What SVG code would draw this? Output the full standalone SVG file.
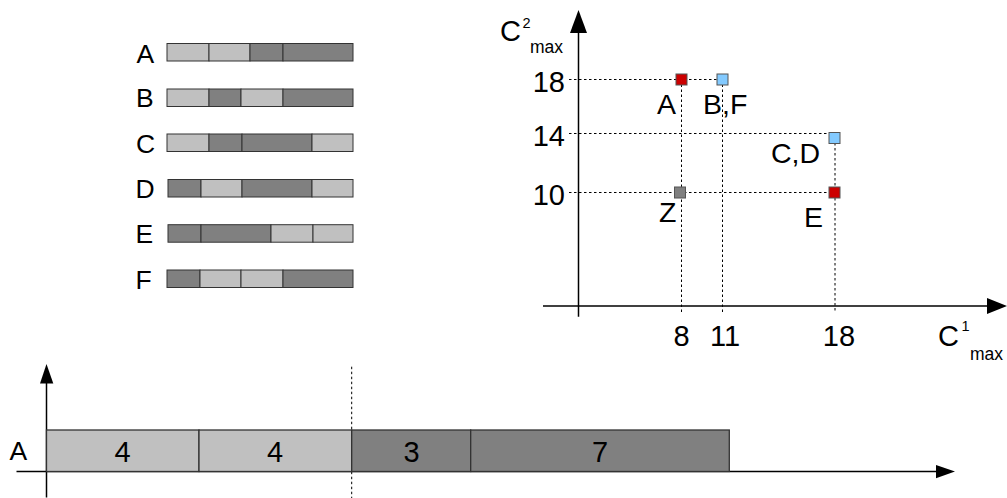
<svg xmlns="http://www.w3.org/2000/svg" width="1007" height="498" viewBox="0 0 1007 498">
<style>
text{font-family:"Liberation Sans",Arial,sans-serif;fill:#000}
.lbl{font-size:26.5px}
.num{font-size:29px}
.pl{font-size:28.5px}
.sup{font-size:14.5px}
.sub{font-size:17.5px}
.lt{fill:#c0c0c0;stroke:#333;stroke-width:1}
.dk{fill:#808080;stroke:#333;stroke-width:1}
.blt{fill:#c0c0c0;stroke:#333;stroke-width:1.3}
.bdk{fill:#808080;stroke:#333;stroke-width:1.3}
.axis{stroke:#000;stroke-width:1.5;fill:none}
.dot{stroke:#000;stroke-width:1;stroke-dasharray:2.5 2.5;fill:none}
.arr{fill:#000}
.red{fill:#cc0000;stroke:#555;stroke-width:1}
.blue{fill:#83caff;stroke:#555;stroke-width:1}
.gray{fill:#808080;stroke:#555;stroke-width:1}
</style>

<g id="seqA">
<text class="lbl" x="136.5" y="62.5">A</text>
<rect class="lt" x="167" y="43.5" width="42" height="17.5"/>
<rect class="lt" x="209" y="43.5" width="41" height="17.5"/>
<rect class="dk" x="250" y="43.5" width="33" height="17.5"/>
<rect class="dk" x="283" y="43.5" width="70" height="17.5"/>
</g>
<g id="seqB">
<text class="lbl" x="136" y="107">B</text>
<rect class="lt" x="167" y="89" width="42" height="17.5"/>
<rect class="dk" x="209" y="89" width="32" height="17.5"/>
<rect class="lt" x="241" y="89" width="42" height="17.5"/>
<rect class="dk" x="283" y="89" width="70" height="17.5"/>
</g>
<g id="seqC">
<text class="lbl" x="136" y="152.5">C</text>
<rect class="lt" x="167" y="134" width="42" height="17.5"/>
<rect class="dk" x="209" y="134" width="33" height="17.5"/>
<rect class="dk" x="242" y="134" width="70" height="17.5"/>
<rect class="lt" x="312" y="134" width="41" height="17.5"/>
</g>
<g id="seqD">
<text class="lbl" x="135.5" y="197.5">D</text>
<rect class="dk" x="168" y="179.5" width="33" height="17.5"/>
<rect class="lt" x="201" y="179.5" width="41" height="17.5"/>
<rect class="dk" x="242" y="179.5" width="70" height="17.5"/>
<rect class="lt" x="312" y="179.5" width="41" height="17.5"/>
</g>
<g id="seqE">
<text class="lbl" x="135.5" y="243">E</text>
<rect class="dk" x="168" y="224.7" width="33" height="17.5"/>
<rect class="dk" x="201" y="224.7" width="70" height="17.5"/>
<rect class="lt" x="271" y="224.7" width="42" height="17.5"/>
<rect class="lt" x="313" y="224.7" width="40" height="17.5"/>
</g>
<g id="seqF">
<text class="lbl" x="135.5" y="288.5">F</text>
<rect class="dk" x="167" y="270" width="33" height="17.5"/>
<rect class="lt" x="200" y="270" width="41" height="17.5"/>
<rect class="lt" x="241" y="270" width="42" height="17.5"/>
<rect class="dk" x="283" y="270" width="70" height="17.5"/>
</g>

<g id="connectors">
<line class="axis" x1="578.5" y1="316.7" x2="578.5" y2="32"/>
<polygon class="arr" points="570,33 587,33 578.5,10"/>
<line class="axis" x1="543" y1="306" x2="988" y2="306"/>
<polygon class="arr" points="987,298 987,314 1007,306"/>
<line class="dot" x1="569" y1="79.5" x2="722" y2="79.5"/>
<line class="dot" x1="569" y1="133.5" x2="834" y2="133.5"/>
<line class="dot" x1="569" y1="192.5" x2="834" y2="192.5"/>
<line class="dot" x1="681.5" y1="79.5" x2="681.5" y2="312"/>
<line class="dot" x1="722.5" y1="79.5" x2="722.5" y2="312"/>
<line class="dot" x1="835" y1="138" x2="835" y2="312"/>
<line class="axis" x1="46.5" y1="497.5" x2="46.5" y2="382"/>
<polygon class="arr" points="40,383.5 53.3,383.5 46.5,364"/>
<line class="axis" x1="16.5" y1="471.5" x2="937" y2="471.5"/>
<polygon class="arr" points="936,465 936,478.3 955,471.5"/>
<line class="dot" x1="351.7" y1="366.7" x2="351.7" y2="498"/>
</g>

<g id="points">
<rect id="pA" class="red" x="676" y="74" width="11" height="11"/>
<rect id="pBF" class="blue" x="717" y="74" width="11" height="11"/>
<rect id="pCD" class="blue" x="829" y="132.5" width="11" height="11"/>
<rect id="pZ" class="gray" x="674.5" y="187" width="11" height="11"/>
<rect id="pE" class="red" x="829" y="187" width="11" height="11"/>
</g>

<g id="chart-labels">
<text class="num" x="500" y="41">C</text>
<text class="sup" x="522.5" y="28">2</text>
<text class="sub" x="530" y="52.5">max</text>
<text class="num" x="938" y="345.5">C</text>
<text class="sup" x="961.5" y="331">1</text>
<text class="sub" x="970" y="360">max</text>
<text class="num" x="565" y="92" text-anchor="end">18</text>
<text class="num" x="565" y="145.5" text-anchor="end">14</text>
<text class="num" x="565" y="204.5" text-anchor="end">10</text>
<text class="num" x="681.5" y="345.5" text-anchor="middle">8</text>
<text class="num" x="725" y="345.5" text-anchor="middle">11</text>
<text class="num" x="839" y="345.5" text-anchor="middle">18</text>
<text class="pl" x="657" y="113.5">A</text>
<text class="pl" x="703" y="113.5">B,F</text>
<text class="pl" x="771" y="163">C,D</text>
<text class="pl" x="659" y="222">Z</text>
<text class="pl" x="804" y="227">E</text>
</g>

<g id="timeline">
<text class="lbl" x="9.5" y="459.5">A</text>
<rect class="blt" x="46.5" y="430" width="152.5" height="41.5"/>
<rect class="blt" x="199" y="430" width="152.7" height="41.5"/>
<rect class="bdk" x="351.7" y="430" width="119" height="41.5"/>
<rect class="bdk" x="470.7" y="430" width="258.6" height="41.5"/>
<text class="num" x="122.5" y="461.5" text-anchor="middle">4</text>
<text class="num" x="275" y="461.5" text-anchor="middle">4</text>
<text class="num" x="411.5" y="461.5" text-anchor="middle">3</text>
<text class="num" x="600" y="461.5" text-anchor="middle">7</text>
</g>
</svg>
